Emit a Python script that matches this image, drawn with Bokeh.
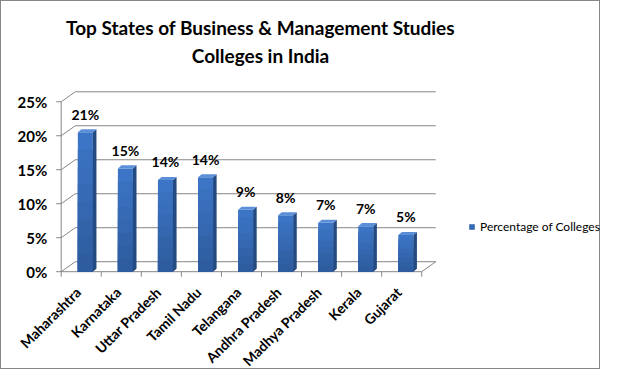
import math
from bokeh.plotting import figure
from bokeh.models import Range1d, Legend, LegendItem, ColumnDataSource
from bokeh.core.properties import value
from bokeh.embed import file_html
from bokeh.resources import INLINE

# ---- data ----
states = ["Maharashtra", "Karnataka", "Uttar Pradesh", "Tamil Nadu", "Telangana",
          "Andhra Pradesh", "Madhya Pradesh", "Kerala", "Gujarat"]
pct = [20.5, 15.2, 13.5, 13.9, 9.1, 8.3, 7.2, 6.7, 5.4]
pct_labels = ["21%", "15%", "14%", "14%", "9%", "8%", "7%", "7%", "5%"]
y_ticks = [0, 5, 10, 15, 20, 25]
y_tick_labels = ["0%", "5%", "10%", "15%", "20%", "25%"]
series_name = "Percentage of Colleges"
title_lines = ["Top States of Business & Management Studies", "Colleges in India"]

# ---- geometry of the pseudo-3D look (in data units) ----
DX, DY = 0.35, 1.47        # wall depth
BL, BR = 0.415, 0.79       # bar front face inside each category slot
BDX, BDY = 0.09, 0.45      # bar depth
N = len(states)
GRID = "#868686"
FONT = "Lato"
PX_X = 40.06               # pixels per category
PX_Y = 6.797               # pixels per percent
W, H = 600, 369
ORIGIN_X, ORIGIN_Y = 59.7, 98.8   # px from frame left / frame bottom to the chart origin
X0 = -ORIGIN_X / PX_X
Y0 = -ORIGIN_Y / PX_Y

p = figure(width=W, height=H, output_backend="svg", toolbar_location=None,
           x_range=Range1d(X0, X0 + W / PX_X), y_range=Range1d(Y0, Y0 + H / PX_Y),
           min_border_left=0, min_border_right=0, min_border_top=0,
           min_border_bottom=0, title=None)
p.styles = {"border": "1px solid #878787"}
p.outline_line_color = None
p.xgrid.visible = False
p.ygrid.visible = False
p.xaxis.visible = False
p.yaxis.visible = False
p.background_fill_color = "white"
p.border_fill_color = "white"

# chart title (two centred lines above the drawing)
title_y = [244 / PX_Y, 216.5 / PX_Y]
title_x = X0 + 259 / PX_X
p.text(x=[title_x, title_x], y=title_y, text=title_lines, text_align="center",
       text_baseline="middle", text_font=value(FONT), text_font_size="19px",
       text_font_style="bold", text_color="black")

# back wall gridlines, left wall diagonals
p.segment(x0=[DX] * len(y_ticks), y0=[t + DY for t in y_ticks],
          x1=[N + DX] * len(y_ticks), y1=[t + DY for t in y_ticks],
          line_color=GRID, line_width=1)
p.segment(x0=[0] * len(y_ticks), y0=y_ticks,
          x1=[DX] * len(y_ticks), y1=[t + DY for t in y_ticks],
          line_color=GRID, line_width=1)
# floor: front edge and right diagonal, front vertical axis line
p.segment(x0=[0, N, 0], y0=[0, 0, 0], x1=[N, N + DX, 0], y1=[0, DY, y_ticks[-1]],
          line_color=GRID, line_width=1)
# category boundary ticks below the floor edge
bounds = list(range(N + 1))
p.segment(x0=bounds, y0=[0] * len(bounds), x1=bounds, y1=[-5 / PX_Y] * len(bounds),
          line_color=GRID, line_width=1)
# value ticks left of the vertical axis
p.segment(x0=[0] * len(y_ticks), y0=y_ticks, x1=[-5 / PX_X] * len(y_ticks), y1=y_ticks,
          line_color=GRID, line_width=1)

# value tick labels
p.text(x=[0] * len(y_ticks), y=y_ticks, text=y_tick_labels, text_align="right",
       text_baseline="middle", x_offset=-14, text_font=value(FONT),
       text_font_size="15px", text_font_style="bold", text_color="black")

# bars (front face with a vertical gradient built from stacked layers)
xl = [i + BL for i in range(N)]
xr = [i + BR for i in range(N)]
steps = 8
c_top = (0x3E, 0x77, 0xC8)
c_bot = (0x2D, 0x5B, 0x9C)
layers = []
for k in range(steps - 1, -1, -1):
    f = (k + 0.5) / steps
    col = "#%02x%02x%02x" % tuple(int(b + (t - b) * f) for t, b in zip(c_top, c_bot))
    layers.append(p.quad(left=xl, right=xr, bottom=[0] * N,
                         top=[v * (k + 1) / steps for v in pct], fill_color=col,
                         line_color=None))
side_xs = [[r, r, r + BDX, r + BDX] for r in xr]
side_ys = [[0, v, v + BDY, BDY] for v in pct]
p.patches(side_xs, side_ys, fill_color="#244A82", line_color=None)
top_xs = [[l, r, r + BDX, l + BDX] for l, r in zip(xl, xr)]
top_ys = [[v, v, v + BDY, v + BDY] for v in pct]
p.patches(top_xs, top_ys, fill_color="#5B8FD8", line_color=None)

# data labels
src = ColumnDataSource(dict(x=[(l + r) / 2 for l, r in zip(xl, xr)], y=pct, t=pct_labels))
p.text(x="x", y="y", text="t", source=src, text_align="center",
       text_baseline="alphabetic", y_offset=-18, text_font=value(FONT),
       text_font_size="14px", text_font_style="bold", text_color="black")

# category labels, rotated 45 degrees, ending under each category centre
centers = [i + 0.5 for i in range(N)]
p.text(x=centers, y=[0] * N, text=states, angle=math.pi / 4, text_align="right",
       text_baseline="top", x_offset=-9, y_offset=12, text_font=value(FONT),
       text_font_size="14px", text_font_style="bold", text_color="black")

# legend (to the right of the drawing)
legend = Legend(items=[LegendItem(label=series_name, renderers=[layers[3]])],
                location=(467, 136), glyph_width=7, glyph_height=7,
                label_standoff=5, padding=0, margin=0, border_line_color=None,
                background_fill_alpha=0, label_text_font=FONT,
                label_text_font_size="12px", label_text_color="black", label_height=12)
p.add_layout(legend, "center")

open("out.html", "w").write(file_html(p, INLINE))
